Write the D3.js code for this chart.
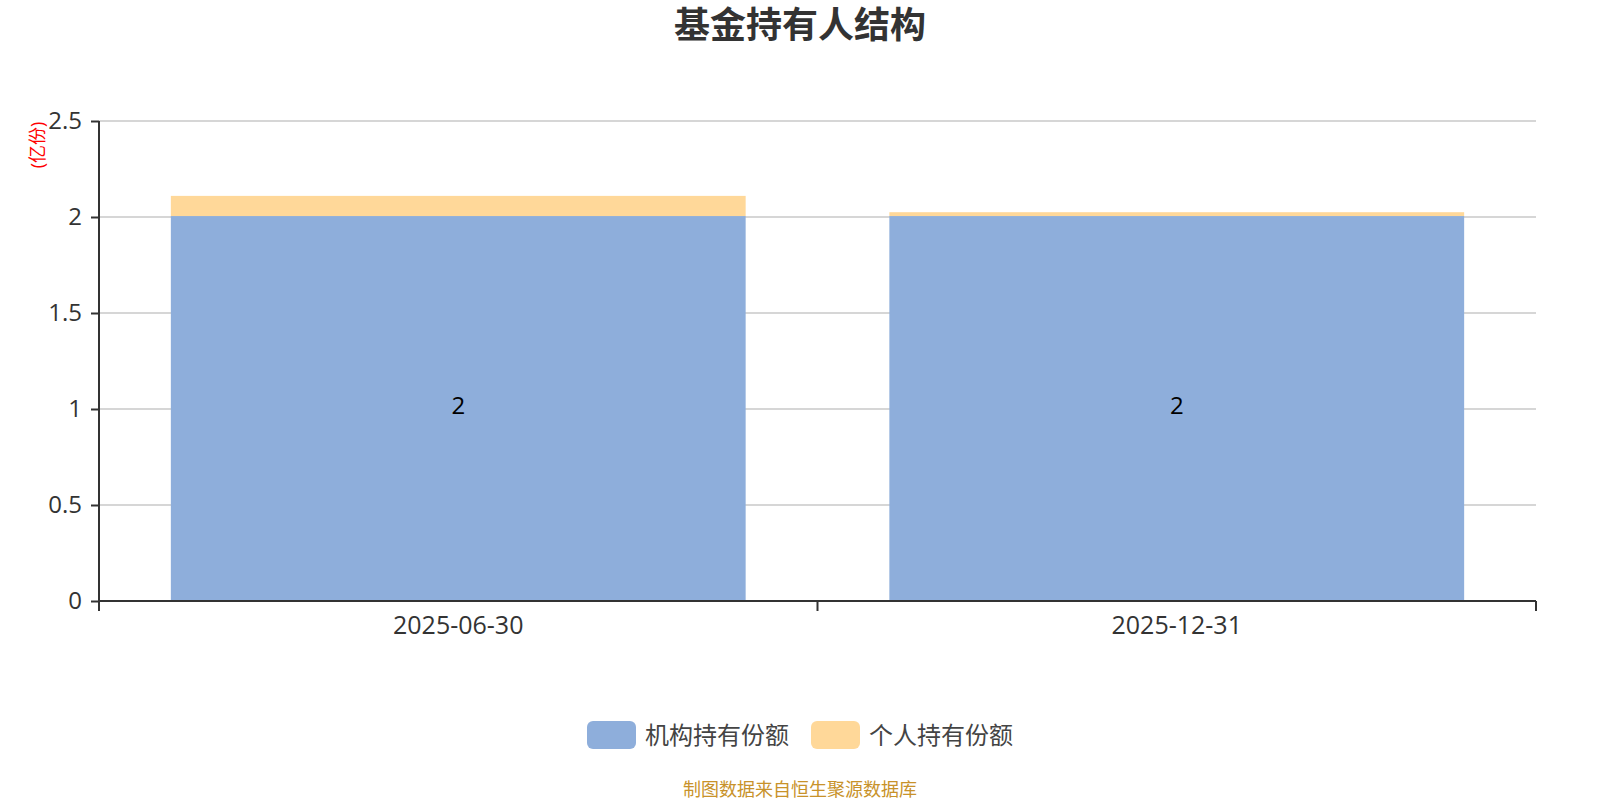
<!DOCTYPE html>
<html>
<head>
<meta charset="utf-8">
<script src="https://cdn.jsdelivr.net/npm/d3@7"></script>
<style>
  body { margin: 0; background: #fff; }
  svg text { font-family: "Open Sans", "Noto Sans CJK SC", sans-serif; }
</style>
</head>
<body>
<div id="chart"></div>
<script>
var dates = ["2025-06-30", "2025-12-31"];
var institution = [2.005, 2.005];
var individual = [0.105, 0.02];
var seriesNames = ["机构持有份额", "个人持有份额"];
var colors = ["#8eaedb", "#ffd899"];
var yTicks = [0, 0.5, 1, 1.5, 2, 2.5];

function drawChart() {
    var w = 1600;
    var h = 800;
    var margin = {left: 99, right: 64, top: 121, bottom: 199};

    var svg = d3.select("#chart")
                .append("svg")
                .attr("width", w)
                .attr("height", h);

    var x = d3.scaleBand()
              .domain(dates)
              .range([margin.left, w - margin.right])
              .paddingInner(0.2)
              .paddingOuter(0.1);

    var y = d3.scaleLinear()
              .domain([0, 2.5])
              .range([h - margin.bottom, margin.top]);

    // Title
    svg.append("text")
        .attr("x", w / 2)
        .attr("y", 38)
        .attr("text-anchor", "middle")
        .style("font-size", "36px")
        .style("font-weight", "bold")
        .style("fill", "#333")
        .text("基金持有人结构");

    // Grid
    svg.append("g")
        .selectAll("line")
        .data(yTicks.slice(1))
        .enter()
        .append("line")
        .attr("x1", margin.left)
        .attr("x2", w - margin.right)
        .attr("y1", function(d){ return y(d); })
        .attr("y2", function(d){ return y(d); })
        .style("stroke", "#c8c8c8")
        .style("stroke-width", 1.5);

    // Stacked bars
    var table = dates.map(function(d, i){
        return {date: d, a: institution[i], b: individual[i]};
    });
    var stack = d3.stack().keys(["a", "b"]);
    var layers = stack(table);

    svg.selectAll("g.layer")
        .data(layers)
        .enter()
        .append("g")
        .attr("class", "layer")
        .style("fill", function(d, i){ return colors[i]; })
        .selectAll("rect")
        .data(function(d){ return d; })
        .enter()
        .append("rect")
        .attr("x", function(d){ return x(d.data.date); })
        .attr("width", x.bandwidth())
        .attr("y", function(d){ return y(d[1]); })
        .attr("height", function(d){ return y(d[0]) - y(d[1]); });

    // Labels on institution bars
    svg.append("g")
        .selectAll("text")
        .data(table)
        .enter()
        .append("text")
        .attr("x", function(d){ return x(d.date) + x.bandwidth() / 2; })
        .attr("y", function(d){ return y(d.a / 2) + 5; })
        .attr("text-anchor", "middle")
        .style("font-size", "24px")
        .style("fill", "#000")
        .text(function(d){ return d3.format(".0f")(d.a); });

    // Y axis
    var yAxis = d3.axisLeft(y)
                  .tickValues(yTicks)
                  .tickSize(8)
                  .tickPadding(9)
                  .tickFormat(function(d){ return d; });
    var gy = svg.append("g")
        .attr("transform", "translate(" + margin.left + ",0)")
        .call(yAxis);
    gy.select(".domain").attr("d", "M-0," + (h - margin.bottom) + "V" + margin.top);
    gy.selectAll("line, path").style("stroke", "#333").style("stroke-width", 2);
    gy.selectAll("text").style("font-size", "24px").style("fill", "#333").style("font-family", "'Open Sans', sans-serif");

    // X axis
    var gx = svg.append("g")
        .attr("transform", "translate(0," + (h - margin.bottom) + ")");
    gx.append("line")
        .attr("x1", margin.left)
        .attr("x2", w - margin.right)
        .style("stroke", "#333")
        .style("stroke-width", 2);
    var bounds = [margin.left, margin.left + (w - margin.left - margin.right) / 2, w - margin.right];
    gx.selectAll("line.tick")
        .data(bounds)
        .enter()
        .append("line")
        .attr("class", "tick")
        .attr("x1", function(d){ return d; })
        .attr("x2", function(d){ return d; })
        .attr("y1", 0)
        .attr("y2", 10)
        .style("stroke", "#333")
        .style("stroke-width", 2);
    gx.selectAll("text")
        .data(dates)
        .enter()
        .append("text")
        .attr("x", function(d){ return x(d) + x.bandwidth() / 2; })
        .attr("y", 33)
        .attr("text-anchor", "middle")
        .style("font-size", "25px")
        .style("fill", "#333")
        .text(function(d){ return d; });

    // Y unit label
    svg.append("text")
        .attr("transform", "translate(44,145) rotate(-90)")
        .attr("text-anchor", "middle")
        .style("font-size", "18px")
        .style("fill", "red")
        .text("(亿份)");

    // Legend
    var legendX = [587, 811];
    var legend = svg.selectAll("g.legend")
        .data(seriesNames)
        .enter()
        .append("g")
        .attr("class", "legend")
        .attr("transform", function(d, i){ return "translate(" + legendX[i] + ",721)"; });
    legend.append("rect")
        .attr("width", 49)
        .attr("height", 28)
        .attr("rx", 6)
        .style("fill", function(d, i){ return colors[i]; });
    legend.append("text")
        .attr("x", 58)
        .attr("y", 23)
        .style("font-size", "24px")
        .style("fill", "#444")
        .text(function(d){ return d; });

    // Source
    svg.append("text")
        .attr("x", w / 2)
        .attr("y", 796)
        .attr("text-anchor", "middle")
        .style("font-size", "18px")
        .style("fill", "#c8922a")
        .text("制图数据来自恒生聚源数据库");
}

window.onload = drawChart;
</script>
</body>
</html>
